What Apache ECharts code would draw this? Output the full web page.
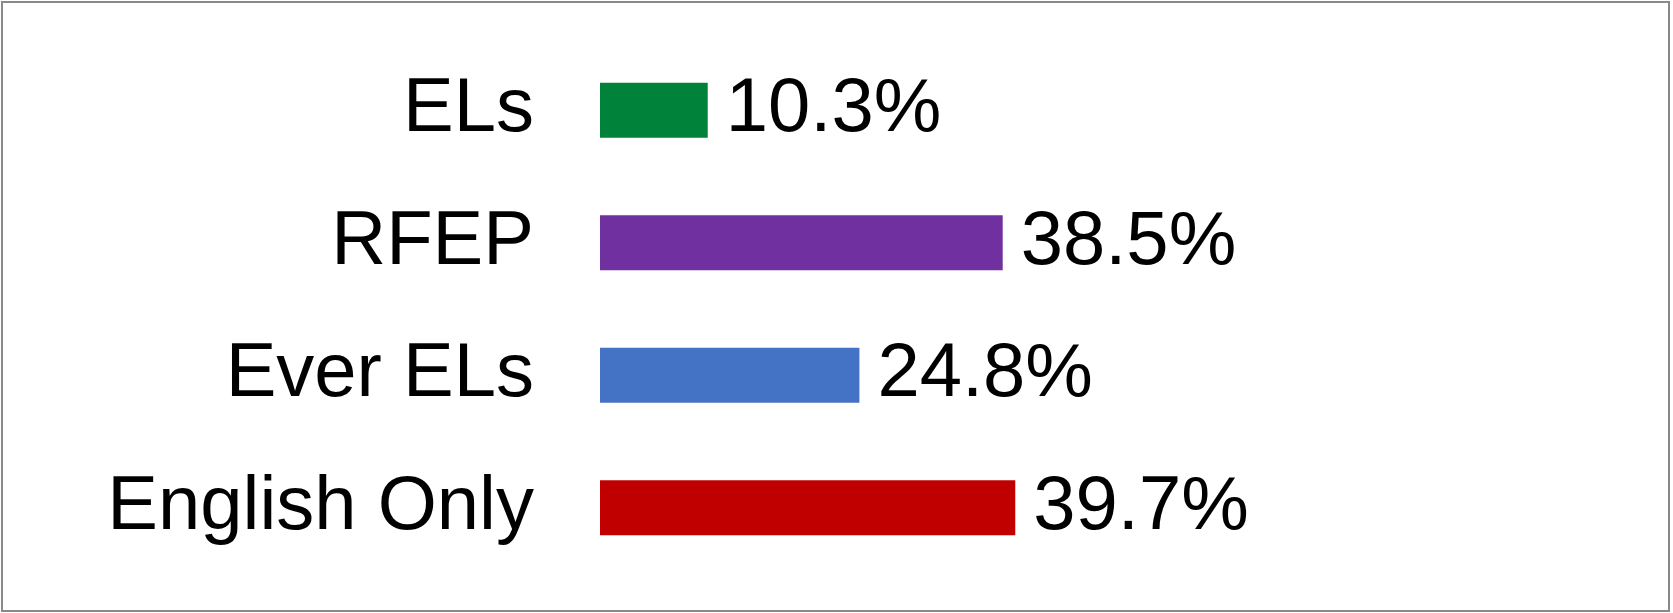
<!DOCTYPE html>
<html>
<head>
<meta charset="utf-8">
<script src="https://cdn.jsdelivr.net/npm/echarts@6/dist/echarts.min.js"></script>
<style>
  html, body { margin: 0; padding: 0; background: #fff; }
  #main { width: 1673px; height: 613px; }
</style>
</head>
<body>
<div id="main"></div>
<script>
// 类别 (从上到下)
var categories = ['ELs', 'RFEP', 'Ever ELs', 'English Only'];
var values = [10.3, 38.5, 24.8, 39.7];
var barColors = ['#00823B', '#7030A0', '#4472C4', '#C00000'];

var myChart = echarts.init(document.getElementById('main'));

var option = {
    animation: false,
    backgroundColor: '#fff',
    textStyle: {
        fontFamily: '"Liberation Sans", Arial, sans-serif'
    },
    graphic: [{
        type: 'rect',
        shape: { x: 2, y: 2, width: 1667, height: 609 },
        style: { fill: 'none', stroke: '#898989', lineWidth: 2 },
        silent: true
    }],
    grid: {
        left: 600,
        right: 27,
        top: 44,
        bottom: 39,
        containLabel: false
    },
    xAxis: {
        type: 'value',
        min: 0,
        max: 100,
        show: false
    },
    yAxis: {
        type: 'category',
        inverse: true,
        data: categories,
        axisLine: { show: false },
        axisTick: { show: false },
        splitLine: { show: false },
        axisLabel: {
            margin: 66,
            fontSize: 76,
            color: '#000',
            fontFamily: '"Liberation Sans", Arial, sans-serif'
        }
    },
    series: [{
        type: 'bar',
        barWidth: 55,
        data: values.map(function (v, i) {
            return { value: v, itemStyle: { color: barColors[i] } };
        }),
        label: {
            show: true,
            position: 'right',
            distance: 18,
            fontSize: 76,
            color: '#000',
            fontFamily: '"Liberation Sans", Arial, sans-serif',
            formatter: function (p) { return p.value.toFixed(1) + '%'; }
        }
    }]
};

myChart.setOption(option);
</script>
</body>
</html>
